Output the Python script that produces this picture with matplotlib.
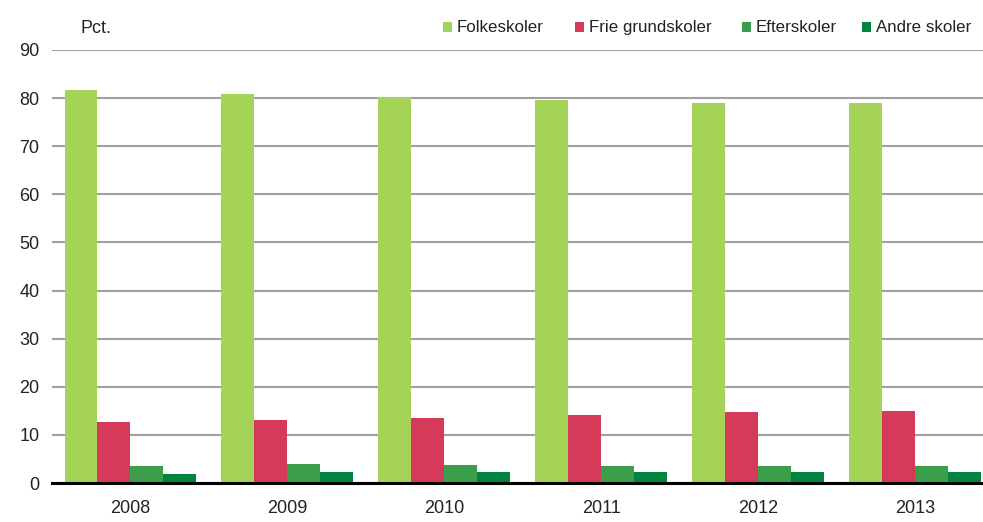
import matplotlib
matplotlib.use("Agg")
import matplotlib.pyplot as plt
from matplotlib.patches import Rectangle
import numpy as np

plt.rcParams['font.family'] = ['Liberation Sans', 'DejaVu Sans']

years = ['2008', '2009', '2010', '2011', '2012', '2013']
series_names = ['Folkeskoler', 'Frie grundskoler', 'Efterskoler', 'Andre skoler']
folkeskoler = [81.6, 80.8, 80.3, 79.7, 79.0, 78.9]
frie_grundskoler = [12.7, 13.0, 13.5, 14.2, 14.8, 15.0]
efterskoler = [3.6, 3.9, 3.7, 3.6, 3.6, 3.6]
andre_skoler = [1.8, 2.2, 2.3, 2.3, 2.3, 2.3]
yticks = [0, 10, 20, 30, 40, 50, 60, 70, 80, 90]

colors = ['#a4d357', '#d63a5a', '#3a9e4a', '#00843f']
data = [folkeskoler, frie_grundskoler, efterskoler, andre_skoler]

W, H = 983, 522
fig = plt.figure(figsize=(W/100, H/100), dpi=100)
ax = fig.add_axes([52/W, 1-483/H, (W-52)/W, (483-50)/H])

x = np.arange(len(years))
group = 0.84
w = group / 4
for i, (vals, c) in enumerate(zip(data, colors)):
    ax.bar(x - group/2 + w*(i+0.5), vals, width=w, color=c, edgecolor='none', zorder=3)

ax.set_ylim(0, 90)
ax.set_xlim(-0.5, 5.435)
ax.set_yticks(yticks)
ax.set_xticks(x)
ax.set_xticklabels(years)
ax.yaxis.grid(True, color='#a0a0a0', linewidth=1.5, zorder=0)
ax.set_axisbelow(True)
for s in ['top', 'right', 'left']:
    ax.spines[s].set_visible(False)
ax.spines['bottom'].set_linewidth(2.2)
ax.spines['bottom'].set_color('black')
ax.spines['bottom'].set_zorder(5)
ax.tick_params(axis='both', length=0, labelsize=13, colors='#222222')
ax.tick_params(axis='x', pad=12)
ax.tick_params(axis='y', pad=9)

fig.text(80/W, 1-33/H, 'Pct.', fontsize=13, va='baseline', ha='left', color='#222222')

# legend (manual placement)
marker_x = [443, 575, 742, 862]
text_x = [457, 589, 756, 876]
ly = 27
ms = 9
for mx, tx, name, c in zip(marker_x, text_x, series_names, colors):
    fig.patches.append(Rectangle((mx/W, 1-(ly+ms/2)/H), ms/W, ms/H, facecolor=c,
                                 edgecolor='none', transform=fig.transFigure, figure=fig))
    fig.text(tx/W, 1-32/H, name, fontsize=12.2, va='baseline', ha='left', color='#222222')

fig.savefig('out.png', dpi=100)
